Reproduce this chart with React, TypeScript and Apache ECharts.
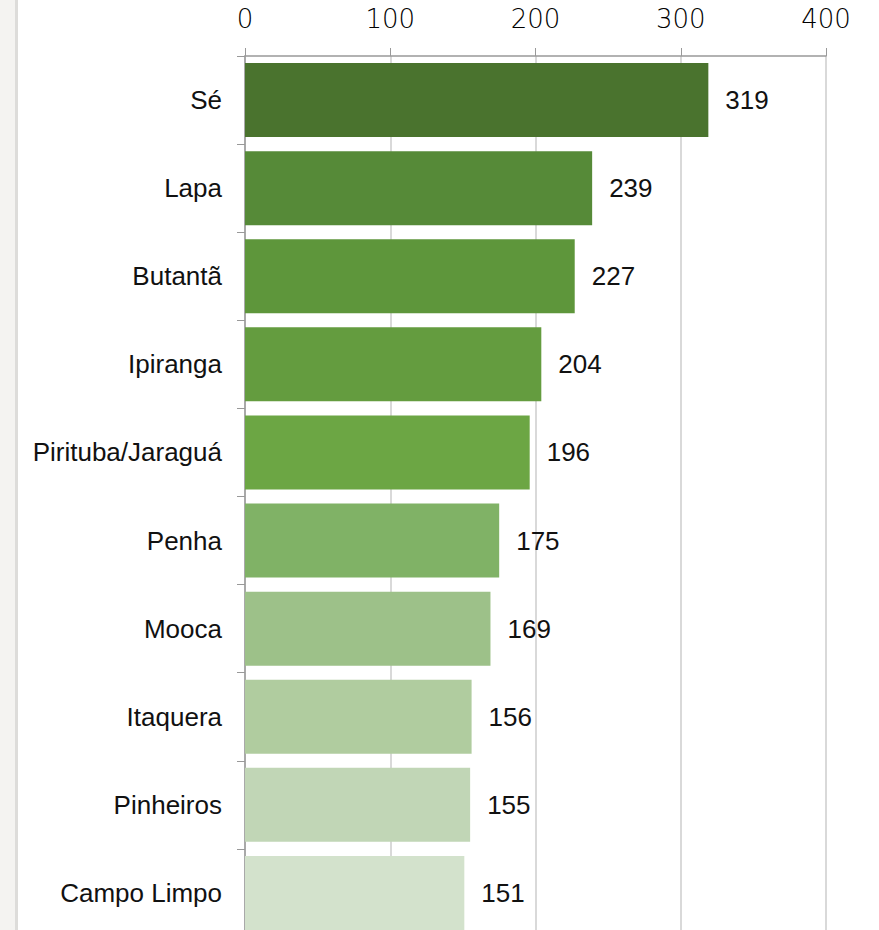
import React, { useEffect, useRef } from "react";
import * as echarts from "echarts";

const categories = [
  "Sé",
  "Lapa",
  "Butantã",
  "Ipiranga",
  "Pirituba/Jaraguá",
  "Penha",
  "Mooca",
  "Itaquera",
  "Pinheiros",
  "Campo Limpo",
];
const values = [319, 239, 227, 204, 196, 175, 169, 156, 155, 151];
const barColors = [
  "#4a732e",
  "#568a38",
  "#5e963b",
  "#649c3f",
  "#6ca644",
  "#80b266",
  "#9dc189",
  "#b0cc9f",
  "#c1d6b6",
  "#d3e2cc",
];
const xTicks = { min: 0, max: 400, interval: 100 };

export default function App() {
  const ref = useRef<HTMLDivElement>(null);
  useEffect(() => {
    if (!ref.current) return;
    const chart = echarts.init(ref.current, null, { renderer: "svg" });
    chart.setOption({
      animation: false,
      backgroundColor: "#ffffff",
      graphic: [
        {
          type: "rect",
          left: 0,
          top: 0,
          shape: { width: 15, height: 940 },
          style: { fill: "#f4f3f1" },
          silent: true,
        },
        {
          type: "rect",
          left: 15,
          top: 0,
          shape: { width: 3, height: 940 },
          style: { fill: "#dddcda" },
          silent: true,
        },
      ],
      grid: { left: 245, right: 53, top: 56, bottom: 0, containLabel: false },
      xAxis: {
        type: "value",
        position: "top",
        min: xTicks.min,
        max: xTicks.max,
        interval: xTicks.interval,
        axisLine: { show: true, lineStyle: { color: "#999999", width: 1.5 } },
        axisTick: { show: true, length: 8, lineStyle: { color: "#999999" } },
        splitLine: { show: true, lineStyle: { color: "#cccccc", width: 1.5 } },
        axisLabel: {
          margin: 24,
          fontSize: 26,
          fontWeight: 200,
          fontFamily: "'DejaVu Sans', sans-serif",
          color: "#000000",
        },
      },
      yAxis: {
        type: "category",
        inverse: true,
        data: categories,
        axisLine: { show: true, lineStyle: { color: "#999999", width: 1.5 } },
        axisTick: { show: true, length: 8, lineStyle: { color: "#999999" } },
        axisLabel: {
          margin: 23,
          fontSize: 26,
          fontFamily: "'Liberation Sans', Arial, sans-serif",
          color: "#111111",
        },
      },
      series: [
        {
          type: "bar",
          barWidth: 74,
          data: values.map((v, i) => ({ value: v, itemStyle: { color: barColors[i] } })),
          label: {
            show: true,
            position: "right",
            distance: 17,
            fontSize: 26,
            fontFamily: "'Liberation Sans', Arial, sans-serif",
            color: "#111111",
          },
        },
      ],
    });
    return () => chart.dispose();
  }, []);
  return (
    <div
      ref={ref}
      style={{ position: "fixed", left: 0, top: 0, width: 879, height: 937 }}
    />
  );
}
